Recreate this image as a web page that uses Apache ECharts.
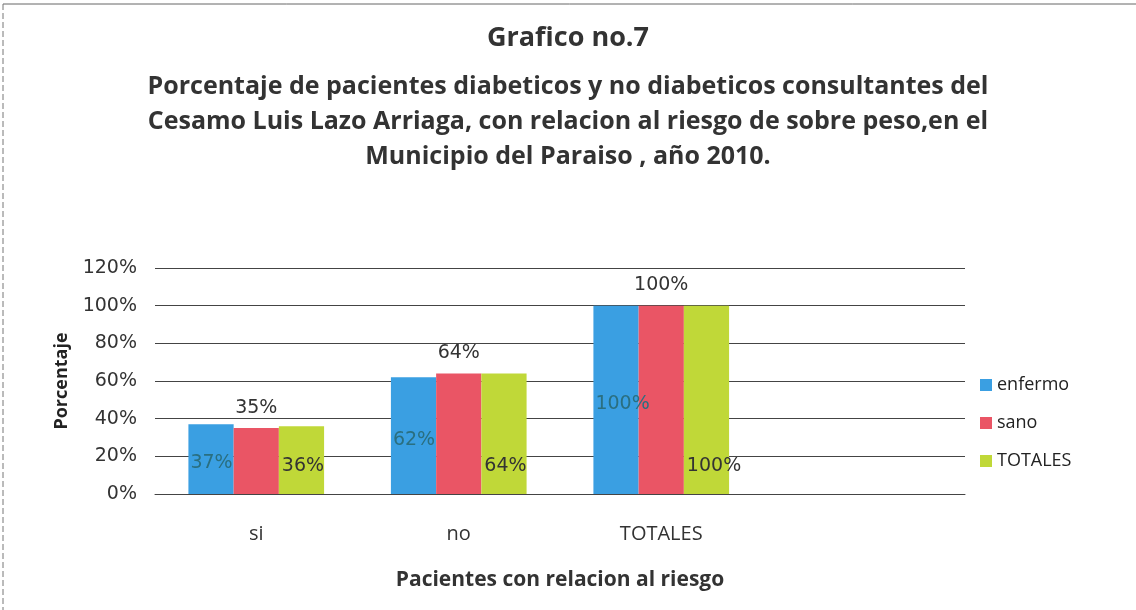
<!DOCTYPE html>
<html>
<head>
<meta charset="utf-8">
<script src="https://cdn.jsdelivr.net/npm/echarts@6/dist/echarts.min.js"></script>
<style>
  html, body { margin: 0; padding: 0; background: #fff; }
  #chart { width: 1136px; height: 610px; }
</style>
</head>
<body>
<div id="chart"></div>
<script>
var categories = ['si', 'no', 'TOTALES', ''];
var enfermo = [37, 62, 100, null];
var sano = [35, 64, 100, null];
var totales = [36, 64, 100, null];
var yTicks = [0, 20, 40, 60, 80, 100, 120];
var subtitleLines = [
  'Porcentaje de pacientes diabeticos y no diabeticos consultantes del',
  'Cesamo Luis Lazo Arriaga, con relacion al riesgo de sobre peso,en el',
  'Municipio del Paraiso , año 2010.'
];

var chart = echarts.init(document.getElementById('chart'));

var font = '"Open Sans", "Noto Sans", sans-serif';
var numFont = '"DejaVu Sans", sans-serif';

// subtitle lines as centered text
var graphics = subtitleLines.map(function (t, i) {
  return {
    type: 'text',
    x: 568,
    y: 87 + i * 35,
    style: {
      text: t,
      fill: '#333',
      font: 'bold 25px ' + font,
      textAlign: 'center',
      textVerticalAlign: 'middle'
    }
  };
});
graphics.push(
  { type: 'line', shape: { x1: 3, y1: 4, x2: 1136, y2: 4 }, style: { stroke: '#666', lineWidth: 1 } },
  { type: 'line', shape: { x1: 3, y1: 4, x2: 3, y2: 610 }, style: { stroke: '#777', lineWidth: 1, lineDash: [6, 3] } }
);

var option = {
  backgroundColor: '#fff',
  animation: false,
  title: {
    text: 'Grafico no.7',
    left: 'center',
    top: 20,
    textStyle: { fontFamily: font, fontSize: 27, fontWeight: 'bold', color: '#333' }
  },
  legend: {
    orient: 'vertical',
    left: 975,
    top: 371,
    itemGap: 20,
    itemWidth: 12,
    itemHeight: 12,
    icon: 'rect',
    textStyle: { fontFamily: font, fontSize: 18, color: '#222' },
    data: ['enfermo', 'sano', 'TOTALES']
  },
  grid: { left: 155, right: 171, top: 268, bottom: 116, containLabel: false },
  xAxis: {
    type: 'category',
    data: categories,
    name: 'Pacientes con relacion al riesgo',
    nameLocation: 'middle',
    nameGap: 76,
    nameTextStyle: { fontFamily: font, fontSize: 21, fontWeight: 'bold', color: '#333' },
    axisLine: { lineStyle: { color: '#444', width: 1 } },
    axisTick: { show: false },
    axisLabel: { fontFamily: font, fontSize: 20, color: '#333', margin: 30 }
  },
  yAxis: {
    type: 'value',
    min: 0,
    max: 120,
    interval: 20,
    name: 'Porcentaje',
    nameLocation: 'middle',
    nameGap: 84,
    nameTextStyle: { fontFamily: font, fontSize: 18, fontWeight: 'bold', color: '#222' },
    axisLine: { show: false },
    axisTick: { show: false },
    axisLabel: {
      fontFamily: numFont,
      fontSize: 19,
      color: '#333',
      margin: 18,
      formatter: function (v) { return yTicks.indexOf(v) >= 0 ? v + '%' : ''; }
    },
    splitLine: { lineStyle: { color: '#444', width: 1 } }
  },
  series: [
    {
      name: 'enfermo',
      type: 'bar',
      data: enfermo,
      barGap: '0%',
      barCategoryGap: '33%',
      itemStyle: { color: '#3a9fe2' },
      label: {
        show: true,
        position: 'insideLeft',
        offset: [-3, 4],
        formatter: '{c}%',
        fontFamily: numFont,
        fontSize: 19,
        color: '#2a6f80'
      }
    },
    {
      name: 'sano',
      type: 'bar',
      data: sano,
      itemStyle: { color: '#ea5565' },
      label: {
        show: true,
        position: 'top',
        distance: 11,
        formatter: '{c}%',
        fontFamily: numFont,
        fontSize: 19,
        color: '#333'
      }
    },
    {
      name: 'TOTALES',
      type: 'bar',
      data: totales,
      itemStyle: { color: '#c0d838' },
      label: {
        show: true,
        position: 'insideBottomLeft',
        offset: [-2, -13],
        formatter: '{c}%',
        fontFamily: numFont,
        fontSize: 19,
        color: '#333'
      }
    }
  ],
  graphic: graphics
};

chart.setOption(option);
</script>
</body>
</html>
